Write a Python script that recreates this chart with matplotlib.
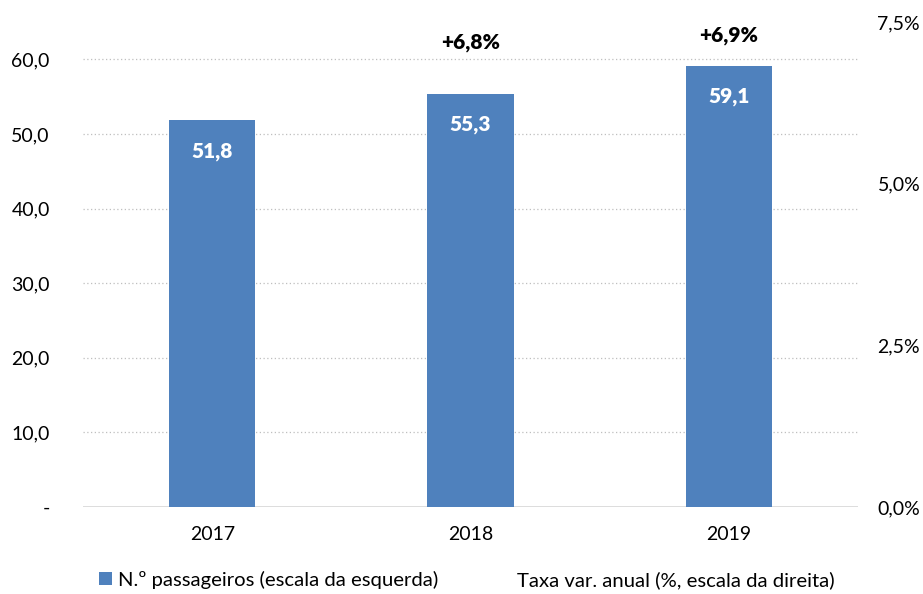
import matplotlib.pyplot as plt
from matplotlib.patches import Patch
from matplotlib.lines import Line2D

plt.rcParams['font.family'] = ['Lato', 'DejaVu Sans']

anos = ["2017", "2018", "2019"]
passageiros = [51.8, 55.3, 59.1]        # milhões, escala da esquerda
taxa_var = [None, 6.8, 6.9]             # %, escala da direita
ticks_esq = [0, 10, 20, 30, 40, 50, 60]
ticks_dir = [0, 2.5, 5.0, 7.5]

azul = "#4F81BD"
cinza = "#D9D9D9"


def fmt_pt(v, casas=1):
    return f"{v:.{casas}f}".replace(".", ",")


fig = plt.figure(figsize=(9.23, 5.94), dpi=100)
ax = fig.add_axes([0.09, 0.1465, 0.8396, 0.8165])
ax2 = ax.twinx()

xs = range(len(anos))
bars = ax.bar(xs, passageiros, width=0.335, color=azul, zorder=3)
for b, v in zip(bars, passageiros):
    ax.annotate(fmt_pt(v), (b.get_x() + b.get_width() / 2, v),
                xytext=(0, -22), textcoords="offset points", ha="center", va="center",
                color="white", fontsize=15, fontweight="heavy", zorder=4)

# linha da taxa de variação invisível, só com os rótulos
tx = [i for i, t in enumerate(taxa_var) if t is not None]
ty = [t for t in taxa_var if t is not None]
ax2.plot(tx, ty, color="none")
for x, t in zip(tx, ty):
    ax2.annotate("+" + fmt_pt(t) + "%", (x, t), xytext=(0, 18),
                 textcoords="offset points", ha="center", va="center",
                 fontsize=15, fontweight="heavy", color="black")

ax.set_xlim(-0.5, 2.5)
ax.set_ylim(0, 65)
ax2.set_ylim(0, 7.5)

ax.set_yticks(ticks_esq)
ax.set_yticklabels(["-"] + [fmt_pt(t) for t in ticks_esq[1:]])
ax2.set_yticks(ticks_dir)
ax2.set_yticklabels([fmt_pt(t) + "%" for t in ticks_dir])
ax.set_xticks(list(xs))
ax.set_xticklabels(anos)

for t in ticks_esq[1:]:
    ax.axhline(t, color="#BFBFBF", linestyle=(0, (1, 2)), linewidth=0.9, zorder=1)
ax.axhline(0, color=cinza, linewidth=2, zorder=2)

for a in (ax, ax2):
    for s in a.spines.values():
        s.set_visible(False)
ax.tick_params(axis="y", length=0, pad=24, labelsize=14)
ax.tick_params(axis="x", length=0, pad=14, labelsize=14)
ax2.tick_params(axis="y", length=0, pad=14, labelsize=14)

handles = [Patch(facecolor=azul),
           Line2D([], [], color="none")]
fig.legend(handles, ["N.º passageiros (escala da esquerda)",
                     "Taxa var. anual (%, escala da direita)"],
           loc="center", bbox_to_anchor=(0.506, 0.024), ncol=2, frameon=False,
           fontsize=14.6, handlelength=0.6, handleheight=0.6, handletextpad=0.3,
           columnspacing=3.0)

fig.savefig("out.png", dpi=100)
